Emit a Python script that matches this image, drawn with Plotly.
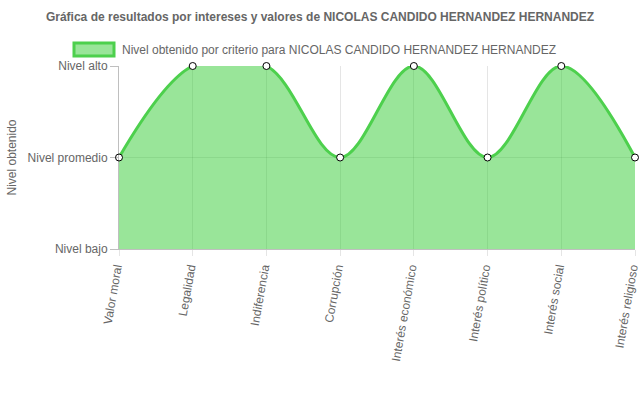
import plotly.graph_objects as go

categories = ["Valor moral", "Legalidad", "Indiferencia", "Corrupción",
              "Interés económico", "Interés político", "Interés social", "Interés religioso"]
values = [1, 2, 2, 1, 2, 1, 2, 1]
level_vals = [0, 1, 2]
level_labels = ["Nivel bajo", "Nivel promedio", "Nivel alto"]
series_name = "Nivel obtenido por criterio para NICOLAS CANDIDO HERNANDEZ HERNANDEZ"
title = "Gráfica de resultados por intereses y valores de NICOLAS CANDIDO HERNANDEZ HERNANDEZ"

font = "Liberation Sans, Arial, sans-serif"
grey = "#666666"
line_col = "#4dd04d"
fill_col = "rgba(51,204,51,0.5)"

W, H = 639, 396
L, R, T, B = 119, 4, 66, 147
pw, ph = W - L - R, H - T - B
def px(x):
    return (x - L) / pw
def py(y):
    return (H - B - y) / ph

fig = go.Figure()
fig.add_trace(go.Scatter(
    x=categories, y=values, name=series_name,
    mode="lines+markers",
    line=dict(color=line_col, width=3, shape="spline", smoothing=1.0),
    fill="tozeroy", fillcolor=fill_col,
    marker=dict(size=7, color="white", line=dict(color="black", width=1)),
    cliponaxis=False, showlegend=False, hoverinfo="skip",
))

# legend (box + label)
fig.add_shape(type="rect", xref="paper", yref="paper",
              x0=px(74), x1=px(114), y0=py(56), y1=py(43),
              fillcolor=fill_col, line=dict(color=line_col, width=3))
fig.add_annotation(xref="paper", yref="paper", x=px(120), y=py(49.5),
                   xanchor="left", yanchor="middle", showarrow=False,
                   text=series_name, font=dict(family=font, size=12, color=grey))

fig.update_layout(
    width=W, height=H,
    margin=dict(l=L, r=R, t=T, b=B),
    paper_bgcolor="white", plot_bgcolor="white",
    font=dict(family=font, size=12, color=grey),
    title=dict(text="<b>" + title + "</b>", x=320 / W, xanchor="center",
               y=1 - 17 / H, yanchor="middle",
               font=dict(family=font, size=12, color=grey)),
    showlegend=False,
    xaxis=dict(type="category", range=[0, 7], showgrid=True, gridcolor="rgba(0,0,0,0.1)",
               ticks="outside", ticklen=6, tickcolor="rgba(0,0,0,0.1)", tickangle=-80,
               ticklabelshift=-3,
               showline=True, linecolor="rgba(0,0,0,0.25)", zeroline=False, automargin=False,
               tickfont=dict(family=font, size=12, color=grey)),
    yaxis=dict(range=[0, 2], tickvals=level_vals, ticktext=level_labels, showgrid=True,
               gridcolor="rgba(0,0,0,0.1)", ticks="outside", ticklen=8,
               tickcolor="rgba(0,0,0,0.25)", showline=True, linecolor="rgba(0,0,0,0.25)",
               zeroline=False, automargin=False,
               title=dict(text="Nivel obtenido", standoff=8,
                          font=dict(family=font, size=12, color=grey)),
               tickfont=dict(family=font, size=12, color=grey)),
)

fig.write_html("out.html", config={"displayModeBar": False},
               post_script="document.body.style.margin='0';document.body.style.overflow='hidden';")
